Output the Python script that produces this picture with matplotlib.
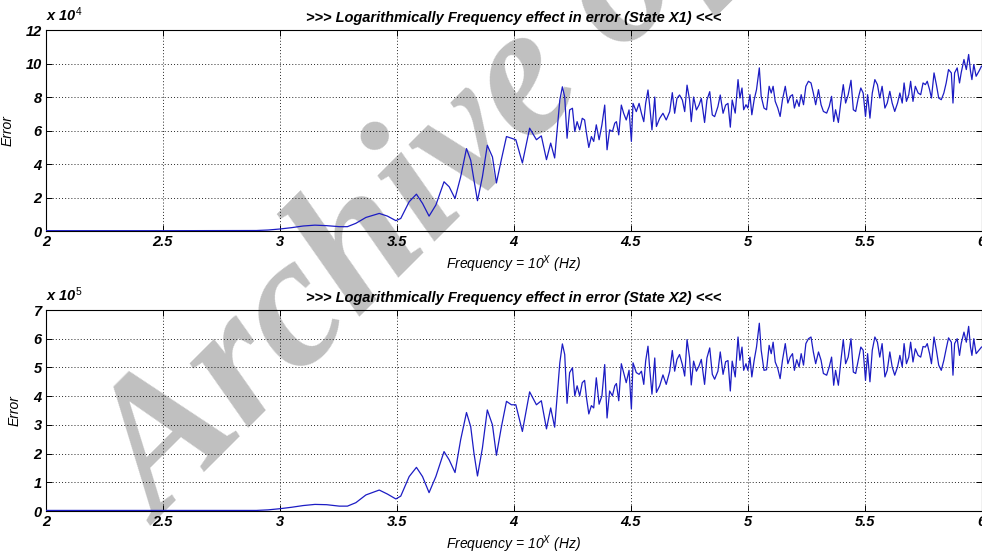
import numpy as np
import matplotlib
matplotlib.use("Agg")
import matplotlib.pyplot as plt

# x axis = log10 of frequency, sampled where the curves were read
x_low = [2.0, 2.5, 2.9, 2.95, 3.0, 3.05, 3.1, 3.15, 3.2, 3.254, 3.289, 3.325,
         3.368, 3.425, 3.46, 3.496, 3.517, 3.553, 3.584, 3.61, 3.638, 3.667,
         3.702, 3.724, 3.749, 3.773, 3.798, 3.816, 3.83, 3.845, 3.866, 3.887, 3.909]
x_mid = [3.926, 3.947, 3.969, 3.990, 4.009, 4.037, 4.068, 4.097, 4.118, 4.140,
         4.158, 4.175, 4.197, 4.208, 4.218, 4.228, 4.239, 4.251, 4.261, 4.271,
         4.282, 4.293, 4.303, 4.311, 4.321, 4.332, 4.342, 4.353, 4.365, 4.377,
         4.389, 4.399, 4.410, 4.422, 4.432, 4.439, 4.449, 4.460, 4.470, 4.481,
         4.493, 4.503, 4.510, 4.524, 4.536, 4.546, 4.556, 4.564, 4.574, 4.581,
         4.591, 4.603, 4.610, 4.624, 4.638, 4.652, 4.667, 4.678, 4.688, 4.698,
         4.709, 4.721, 4.731, 4.741, 4.752, 4.759, 4.769, 4.781, 4.792, 4.802,
         4.816, 4.826, 4.838, 4.849, 4.859, 4.873, 4.883, 4.895, 4.906, 4.916,
         4.926, 4.934]
x_high = [4.947, 4.959, 4.967, 4.976, 4.983, 4.993, 5.001, 5.010, 5.018, 5.028,
          5.038, 5.050, 5.058, 5.070, 5.081, 5.092, 5.101, 5.109, 5.118, 5.129,
          5.139, 5.149, 5.161, 5.172, 5.182, 5.192, 5.200, 5.210, 5.220, 5.229,
          5.239, 5.249, 5.260, 5.271, 5.281, 5.291, 5.303, 5.314, 5.324, 5.338,
          5.349, 5.359, 5.368, 5.376, 5.388, 5.399, 5.409, 5.419, 5.430, 5.442,
          5.452, 5.462, 5.473, 5.484, 5.494, 5.504, 5.513, 5.523, 5.533, 5.544,
          5.555, 5.565, 5.575, 5.587, 5.597, 5.608, 5.618, 5.629, 5.641, 5.651,
          5.661, 5.669, 5.679, 5.689, 5.697, 5.707, 5.717, 5.729, 5.740, 5.750,
          5.760, 5.768, 5.778, 5.786, 5.797, 5.807, 5.817, 5.828, 5.839, 5.849,
          5.859, 5.871, 5.878, 5.885, 5.896, 5.906, 5.913, 5.925, 5.935, 5.945,
          5.953, 5.959, 5.967, 5.977, 5.989, 6.000]

# State X1 error, in units of 1e4
err1_low = [0.02, 0.02, 0.03, 0.06, 0.12, 0.2, 0.3, 0.35, 0.32, 0.26, 0.26, 0.46,
            0.81, 1.05, 0.89, 0.62, 0.75, 1.75, 2.2, 1.65, 0.89, 1.55,
            2.94, 2.64, 1.94, 3.23, 4.92, 4.23, 3.04, 1.81, 3.23, 5.12, 4.42]
err1_mid = [2.87, 4.26, 5.64, 5.54, 5.45, 4.06, 6.14, 5.45, 5.68, 4.26,
            5.25, 4.36, 7.82, 8.61, 8.0, 5.54, 7.23, 7.33, 5.94, 6.53,
            6.04, 6.73, 6.63, 5.84, 4.99, 5.64, 5.35, 6.34, 5.45, 6.34,
            7.52, 4.85, 6.04, 5.94, 6.44, 6.53, 5.74, 7.52, 7.03, 6.63,
            7.23, 5.35, 7.62, 7.13, 7.62, 7.03, 6.53, 7.62, 8.42, 7.52,
            6.04, 8.0, 6.24, 6.73, 7.03, 6.63, 7.13, 8.26, 7.03, 7.92,
            8.12, 7.82, 7.13, 8.71, 7.82, 6.53, 8.0, 7.23, 7.52, 7.92,
            6.48, 7.82, 8.32, 6.93, 6.83, 7.43, 8.12, 7.03, 7.52, 7.62,
            6.2, 7.82]
err1_high = [7.04, 9.04, 7.94, 8.54, 7.24, 7.54, 7.34, 8.14, 6.94, 7.84,
             8.44, 9.74, 8.04, 7.34, 7.24, 8.64, 8.24, 8.64, 7.74, 7.34,
             6.84, 7.84, 8.64, 7.64, 8.04, 8.14, 7.34, 7.84, 7.44, 8.14,
             7.54, 8.64, 8.94, 8.84, 8.24, 7.54, 8.44, 7.54, 7.14, 7.04,
             7.44, 8.04, 6.54, 7.24, 6.48, 7.74, 8.74, 7.64, 8.14, 9.0,
             7.24, 7.14, 7.94, 8.54, 8.24, 6.84, 8.14, 6.74, 8.24, 9.04,
             8.74, 7.94, 8.64, 7.34, 7.64, 8.34, 7.64, 7.14, 7.64, 8.24,
             7.64, 8.84, 7.74, 8.14, 8.94, 7.74, 8.64, 8.24, 8.14, 8.84,
             8.74, 8.94, 8.44, 7.94, 9.44, 8.74, 7.94, 7.84, 8.24, 8.84,
             9.64, 9.44, 7.64, 9.44, 9.74, 8.84, 9.44, 10.24, 9.64, 10.54,
             9.54, 9.04, 9.94, 9.24, 9.54, 9.84]

# State X2 error, in units of 1e5
err2_low = [0.02, 0.02, 0.02, 0.04, 0.08, 0.13, 0.19, 0.23, 0.22, 0.17, 0.17, 0.29,
            0.56, 0.73, 0.59, 0.42, 0.52, 1.2, 1.52, 1.2, 0.64, 1.2,
            2.07, 1.78, 1.34, 2.48, 3.43, 2.94, 2.01, 1.22, 2.19, 3.52, 3.0]
err2_mid = [1.94, 2.92, 3.82, 3.7, 3.7, 2.77, 4.15, 3.7, 3.84, 2.86,
            3.59, 2.92, 5.16, 5.82, 5.45, 3.75, 4.82, 4.99, 4.01, 4.36,
            4.01, 4.47, 4.55, 3.95, 3.38, 3.67, 3.59, 4.64, 3.72, 4.01,
            5.1, 3.24, 4.18, 4.01, 4.36, 4.44, 3.84, 5.13, 4.82, 4.47,
            4.9, 3.55, 5.16, 4.82, 4.76, 4.87, 4.41, 5.22, 5.74, 4.99,
            4.07, 5.33, 4.13, 4.36, 4.74, 4.41, 4.87, 5.59, 4.87, 5.28,
            5.45, 5.1, 4.7, 5.97, 5.33, 4.39, 5.22, 4.87, 5.05, 5.28,
            4.41, 5.33, 5.68, 4.76, 4.59, 4.87, 5.54, 4.76, 5.2, 5.24,
            4.18, 5.22]
err2_high = [4.67, 6.06, 5.25, 5.71, 4.9, 5.13, 4.9, 5.36, 4.67, 5.25,
             5.71, 6.54, 5.6, 4.9, 4.92, 5.77, 5.48, 5.88, 5.19, 4.96,
             4.61, 5.25, 5.83, 5.13, 5.36, 5.48, 4.9, 5.27, 5.02, 5.48,
             5.08, 5.83, 6.0, 6.06, 5.54, 5.13, 5.54, 5.25, 4.79, 4.73,
             5.02, 5.36, 4.38, 4.9, 4.38, 5.25, 5.97, 5.13, 5.36, 6.0,
             4.84, 4.79, 5.25, 5.71, 5.6, 4.55, 5.48, 4.5, 5.6, 6.06,
             5.88, 5.36, 5.83, 4.67, 4.9, 5.54, 5.02, 4.73, 5.02, 5.42,
             5.02, 5.83, 5.13, 5.36, 5.88, 5.19, 5.65, 5.42, 5.36, 5.73,
             5.71, 5.83, 5.48, 5.13, 6.06, 5.6, 5.08, 4.9, 5.25, 5.65,
             6.03, 5.88, 4.73, 5.83, 6.0, 5.42, 5.83, 6.23, 5.88, 6.43,
             5.71, 5.42, 6.0, 5.48, 5.6, 5.71]

x_ticks = [2, 2.5, 3, 3.5, 4, 4.5, 5, 5.5, 6]
x_tick_labels = ['2', '2.5', '3', '3.5', '4', '4.5', '5', '5.5', '6']

plt.rcParams['font.family'] = ['Liberation Sans', 'DejaVu Sans']
plt.rcParams['mathtext.fontset'] = 'custom'
plt.rcParams['mathtext.rm'] = 'Liberation Sans'
plt.rcParams['mathtext.it'] = 'Liberation Sans:italic'
plt.rcParams['mathtext.bf'] = 'Liberation Sans:bold'

freq = np.array(x_low + x_mid + x_high)
err1 = np.array(err1_low + err1_mid + err1_high)
err2 = np.array(err2_low + err2_mid + err2_high)

fig = plt.figure(figsize=(9.82, 5.54), dpi=100)

# grey watermark sitting behind the (transparent) axes
fig.text(0.163, 0.051, 'Archive of SID', family='Liberation Serif',
         weight='bold', style='italic', size=136, rotation=45,
         rotation_mode='anchor', ha='left', va='baseline',
         color='#c0c0c0', zorder=-1)

panels = [
    # bottom, data, ymax, step, exponent, state, ylabel x
    (0.583, err1, 12, 2, 4, 'State X1', -0.034),
    (0.0776, err2, 7, 1, 5, 'State X2', -0.0256),
]

for bottom, err, ymax, ystep, expo, state, ylab_x in panels:
    ax = fig.add_axes([0.0468, bottom, 0.9527, 0.3628])
    ax.patch.set_alpha(0)
    ax.plot(freq, err, color='#1c1cc4', lw=0.9, zorder=3)

    ax.set_xlim(2, 6)
    ax.set_ylim(0, ymax)
    ax.set_xticks(x_ticks)
    ax.set_xticklabels(x_tick_labels)
    ax.set_yticks(np.arange(0, ymax + 1, ystep))
    ax.set_yticklabels([str(v) for v in range(0, ymax + 1, ystep)])

    ax.grid(True, color='black', linestyle=(0, (1, 2.2)), linewidth=0.7, alpha=0.85)
    ax.tick_params(direction='in', length=4, width=0.7, top=True, right=True,
                   labelsize=10.5, pad=3)
    for lbl in ax.get_xticklabels() + ax.get_yticklabels():
        lbl.set_fontweight('bold')
        lbl.set_fontstyle('italic')
    for sp in ax.spines.values():
        sp.set_linewidth(0.8)

    ax.set_title('>>> Logarithmically Frequency effect in error (%s) <<<' % state,
                 fontsize=10.5, fontweight='bold', style='italic', pad=6)
    ax.set_xlabel(r'Frequency = 10$^{X}$ (Hz)', fontsize=10, style='italic',
                  labelpad=3)
    ax.set_ylabel('Error', fontsize=10, style='italic')
    ax.yaxis.set_label_coords(ylab_x, 0.5)

    ax.text(0.0, 1.03, r'x 10$^{%d}$' % expo, transform=ax.transAxes,
            ha='left', va='bottom', fontsize=10.5, fontweight='bold',
            style='italic')

fig.savefig('out.png', dpi=100)
